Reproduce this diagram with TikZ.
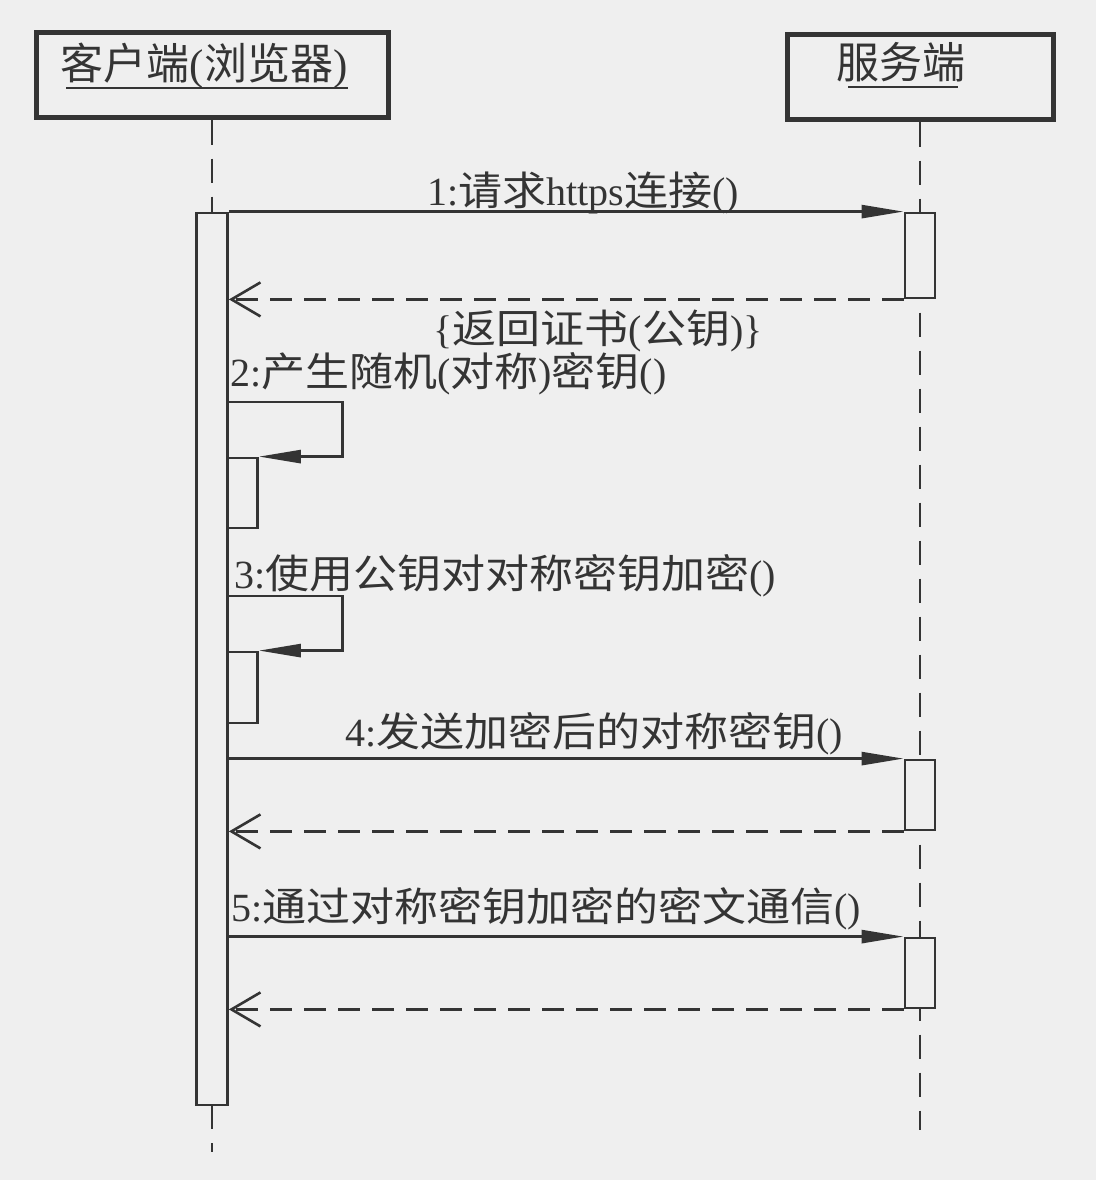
\documentclass[tikz,border=0pt]{standalone}
\usepackage{fontspec}
\setmainfont{Liberation Serif}
\newfontfamily\zhH{Noto Sans CJK SC}
\newfontfamily\zhM[FakeStretch=1.1]{Noto Sans CJK SC}
\usetikzlibrary{arrows.meta,calc}
\definecolor{bg}{RGB}{239,239,239}
\definecolor{ink}{RGB}{52,52,52}
\begin{document}
\begin{tikzpicture}[x=1pt,y=-1pt,
  headbox/.style={draw=ink,line width=5pt,fill=bg,minimum width=#1,minimum height=85pt,inner sep=0pt},
  actbox/.style={draw=ink,line width=2.8pt,fill=bg,minimum width=30pt,minimum height=#1,inner sep=0pt},
  lifeline/.style={draw=ink,line width=2.2pt,dash pattern=on 24pt off 14pt},
  msg/.style={draw=ink,line width=2.8pt,-{Triangle[length=42pt,width=13pt]}},
  ret/.style={draw=ink,line width=2.8pt,dash pattern=on 22pt off 12pt,-{Straight Barb[length=29pt,width=34pt,line width=2.6pt]}},
  htext/.style={text=ink,inner sep=0pt,anchor=base,font=\fontsize{43}{45}\selectfont},
  mtext/.style={text=ink,inner sep=0pt,font=\fontsize{40}{42}\selectfont},
  uline/.style={draw=ink,line width=2.2pt}]
\fill[bg] (0,0) rectangle (1096,1180);
\useasboundingbox (0,0) rectangle (1096,1180);

% headers
\node[headbox=352pt] (client) at (212,75.5) {};
\node[headbox=266pt] (server) at (920,77.5) {};
\node[htext] (ct) at (204,80) {{\zhH 客户端}({\zhH 浏览器})};
\node[htext] (st) at (901,79) {\zhH 服务端};
\draw[uline] ($(ct.base west)+(6,8)$) -- ($(ct.base east)+(0,8)$);
\draw[uline] ($(st.base west)+(12,8)$) -- ($(st.base east)+(-8,8)$);

% lifeline end points
\coordinate (cend) at (212,1152);
\coordinate (send) at (920,1130);

% lifelines
\draw[lifeline] (client.south) -- (212,213);
\draw[lifeline] (212,1105) -- (cend);
\draw[lifeline] (server.south) -- (send);

% activation boxes
\node[actbox=892pt, minimum width=31pt] (ca) at (212,659) {};
\node[actbox=85pt] (sa1) at (920,255.5) {};
\node[actbox=70pt] (sa2) at (920,795) {};
\node[actbox=70pt] (sa3) at (920,973) {};
\node[actbox=70pt] (s2) at (242.5,493) {};
\node[actbox=71pt] (s3) at (242.5,687.5) {};

% message 1 and return
\draw[msg] (ca.east |- sa1.north) -- (sa1.north west);
\draw[ret] (sa1.south west) -- (sa1.south west -| ca.east);
\node[mtext,anchor=base] (m1) at (583,205) {1:{\zhM 请求}https{\zhM 连接}()};
\node[mtext,anchor=base] (r1) at (598,343) {\{{\zhM 返回证书}({\zhM 公钥})\}};

% self message 2
\coordinate (l2) at (227.5,402);
\draw[msg] (l2) -- ++(115,0) |- (s2.north east);
\node[mtext,anchor=base west] (m2) at (230,386) {2:{\zhM 产生随机}({\zhM 对称}){\zhM 密钥}()};

% self message 3
\coordinate (l3) at (227.5,596);
\draw[msg] (l3) -- ++(115,0) |- (s3.north east);
\node[mtext,anchor=base west] (m3) at (234,588) {3:{\zhM 使用公钥对对称密钥加密}()};

% message 4 and return
\draw[msg] (ca.east |- sa2.north) -- (sa2.north west);
\draw[ret] (sa2.south west) -- (sa2.south west -| ca.east);
\node[mtext,anchor=base] (m4) at (594,746) {4:{\zhM 发送加密后的对称密钥}()};

% message 5 and return
\draw[msg] (ca.east |- sa3.north) -- (sa3.north west);
\draw[ret] (sa3.south west) -- (sa3.south west -| ca.east);
\node[mtext,anchor=base west] (m5) at (231,921) {5:{\zhM 通过对称密钥加密的密文通信}()};
\end{tikzpicture}
\end{document}
